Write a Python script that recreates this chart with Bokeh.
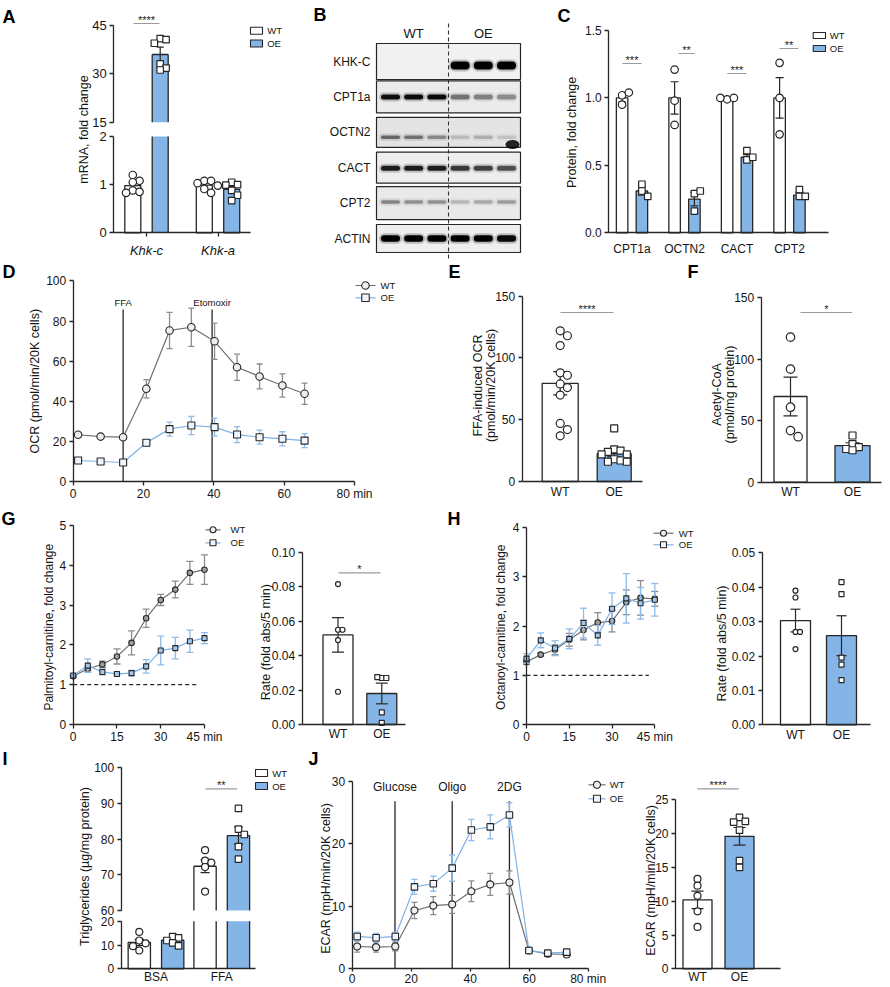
from math import pi
from bokeh.plotting import figure
from bokeh.models import Range1d, FixedTicker, LinearAxis, PrintfTickFormatter
from bokeh.layouts import row, column
from bokeh.embed import file_html
from bokeh.resources import INLINE
from bokeh.core.properties import value

FONT = "Liberation Sans"
INK = "#151515"
AXC = "#262626"
BLUE = "#85b5e6"
WT_LINE = "#707070"
OE_LINE = "#7db1e6"
WT_ERR = "#8c8c8c"
OE_ERR = "#8dbbea"
SIGC = "#9b9b9b"

# ======================= DATA =======================
# A  mRNA fold change
A_genes = ["Khk-c", "Khk-a"]
A_wt_mean = [0.98, 0.99]
A_wt_err = [0.06, 0.04]
A_oe_mean = [36.0, 0.90]
A_oe_err = [2.3, 0.06]
A_wt_pts = [[1.20, 1.08, 1.05, 0.88, 0.85, 0.83], [1.08, 1.08, 1.03, 0.98, 0.91, 0.83]]
A_oe_pts = [[40.9, 40.6, 39.5, 33.1, 31.8, 31.2], [1.05, 1.00, 0.99, 0.88, 0.78, 0.67]]

# B  western blot (band intensity, 0..1)
B_proteins = ["KHK-C", "CPT1a", "OCTN2", "CACT", "CPT2", "ACTIN"]
B_groups = ["WT", "OE"]
B_bands = [
    [0.0, 0.0, 0.0, 1.0, 1.0, 1.0],
    [0.92, 0.95, 0.95, 0.45, 0.40, 0.35],
    [0.50, 0.45, 0.35, 0.15, 0.20, 0.12],
    [0.85, 0.85, 0.85, 0.72, 0.68, 0.62],
    [0.38, 0.33, 0.33, 0.18, 0.24, 0.28],
    [1.0, 1.0, 1.0, 1.0, 1.0, 0.95],
]

# C  protein fold change
C_prot = ["CPT1a", "OCTN2", "CACT", "CPT2"]
C_wt_mean = [1.0, 1.0, 1.0, 1.0]
C_wt_err = [0.03, 0.12, 0.01, 0.15]
C_oe_mean = [0.31, 0.25, 0.56, 0.28]
C_oe_err = [0.03, 0.05, 0.02, 0.02]
C_wt_pts = [[1.02, 0.95, 1.04], [1.21, 0.98, 0.80], [0.99, 1.00, 1.00], [1.26, 1.00, 0.73]]
C_oe_pts = [[0.36, 0.31, 0.27], [0.29, 0.31, 0.16], [0.54, 0.61, 0.56], [0.32, 0.27, 0.27]]
C_sig = ["***", "**", "***", "**"]

# D  OCR time course
D_time = [1.4, 7.8, 14.2, 20.8, 27.4, 33.6, 40.2, 46.6, 53.0, 59.5, 65.8]
D_wt = [23.4, 22.5, 22.2, 46.3, 75.3, 76.9, 69.9, 57.0, 52.4, 47.9, 43.8]
D_wt_err = [1.0, 0.8, 1.0, 4.5, 9.0, 9.5, 9.0, 6.5, 6.2, 5.8, 5.3]
D_oe = [10.6, 10.1, 9.6, 19.4, 26.2, 28.0, 27.2, 23.5, 22.2, 21.4, 20.5]
D_oe_err = [1.0, 1.0, 1.0, 1.5, 3.5, 4.5, 4.5, 4.0, 3.5, 3.5, 3.5]
D_inject_t = [14.2, 39.5]
D_inject = ["FFA", "Etomoxir"]

# E  FFA-induced OCR
E_groups = ["WT", "OE"]
E_mean = [79.5, 22.5]
E_err = [9.4, 2.6]
E_wt_pts = [122, 118, 110, 88, 86, 79, 76, 70, 47, 42, 37]
E_oe_pts = [43, 26, 25, 24, 22, 22, 18, 17, 16, 16]

# F  Acetyl-CoA
F_mean = [69.7, 29.8]
F_err = [15.7, 2.3]
F_wt_pts = [118, 92, 61, 42, 37]
F_oe_pts = [38, 31, 28.5, 27, 26]

# G  palmitoyl-carnitine
G_time = [0, 5, 10, 15, 20, 25, 30, 35, 40, 45]
G_wt = [1.21, 1.40, 1.51, 1.71, 2.05, 2.67, 3.13, 3.39, 3.81, 3.89]
G_wt_err = [0.03, 0.05, 0.08, 0.19, 0.30, 0.23, 0.14, 0.21, 0.29, 0.37]
G_oe = [1.23, 1.48, 1.32, 1.27, 1.29, 1.46, 1.86, 1.92, 2.09, 2.17]
G_oe_err = [0.03, 0.17, 0.07, 0.02, 0.07, 0.17, 0.36, 0.27, 0.28, 0.14]
G_rate_mean = [0.052, 0.018]
G_rate_err = [0.010, 0.006]
G_rate_wt = [0.0815, 0.055, 0.055, 0.049, 0.019]
G_rate_oe = [0.027, 0.027, 0.0275, 0.007, 0.001]

# H  octanoyl-carnitine
H_time = [0, 5, 10, 15, 20, 25, 30, 35, 40, 45]
H_wt = [1.27, 1.42, 1.52, 1.72, 1.92, 2.07, 2.10, 2.48, 2.57, 2.55]
H_wt_err = [0.05, 0.03, 0.10, 0.13, 0.20, 0.20, 0.22, 0.25, 0.35, 0.15]
H_oe = [1.34, 1.71, 1.55, 1.74, 2.06, 1.81, 2.35, 2.56, 2.46, 2.53]
H_oe_err = [0.10, 0.15, 0.15, 0.20, 0.30, 0.20, 0.32, 0.50, 0.32, 0.33]
H_rate_mean = [0.0303, 0.0259]
H_rate_err = [0.0033, 0.0058]
H_rate_wt = [0.039, 0.037, 0.027, 0.027, 0.022]
H_rate_oe = [0.0415, 0.038, 0.0195, 0.0175, 0.013]
FOLD_BASELINE = 1.0

# I  triglycerides
I_cond = ["BSA", "FFA"]
I_wt_mean = [11.1, 72.4]
I_wt_err = [1.3, 1.8]
I_oe_mean = [12.0, 81.0]
I_oe_err = [0.7, 2.4]
I_wt_pts = [[15.5, 11.9, 10.7, 9.5, 7.7], [76.9, 74.0, 73.4, 72.2, 65.3]]
I_oe_pts = [[13.5, 13.0, 11.9, 10.9, 9.6], [88.6, 82.8, 81.3, 77.9, 74.4]]

# J  ECAR
J_time = [1.7, 8.1, 14.6, 21.1, 27.5, 33.9, 40.4, 46.8, 53.3, 59.9, 66.3, 72.7]
J_wt = [3.57, 3.46, 3.57, 9.33, 10.1, 10.3, 12.4, 13.5, 13.8, 2.93, 2.40, 2.29]
J_wt_err = [0.9, 0.8, 0.7, 1.3, 1.45, 1.45, 1.65, 1.75, 1.85, 0.3, 0.2, 0.2]
J_oe = [5.17, 4.96, 5.17, 13.1, 13.6, 16.1, 22.2, 22.7, 24.6, 2.93, 2.50, 2.66]
J_oe_err = [0.7, 0.7, 0.7, 1.2, 1.2, 2.1, 1.7, 1.9, 1.95, 0.3, 0.2, 0.2]
J_inject_t = [14.5, 33.9, 53.3]
J_inject = ["Glucose", "Oligo", "2DG"]
J_bar_mean = [10.2, 19.6]
J_bar_err = [1.3, 1.3]
J_bar_wt = [13.3, 12.3, 10.8, 8.5, 6.2]
J_bar_oe = [22.4, 21.8, 21.7, 20.5, 16.0, 15.0]


# ======================= HELPERS =======================
class Panel:
    """A figure whose frame covers a page rectangle; data mapped to measured pixels."""

    def __init__(self, X0, Y0, X1, Y1, xm, ym, axes=True):
        self.X0, self.Y0, self.X1, self.Y1 = X0, Y0, X1, Y1
        W, H = X1 - X0, Y1 - Y0
        d0, p0, d1, p1 = xm
        self.sx = (p1 - p0) / (d1 - d0)
        self.xs = d0 - (p0 - X0) / self.sx
        self.rng = {}
        s, st = self._ym(ym)
        self.rng["default"] = (s, st)
        kw = {} if axes else dict(x_axis_location=None, y_axis_location=None)
        self.fig = figure(width=W, height=H,
                          x_range=Range1d(self.xs, self.xs + W / self.sx),
                          y_range=Range1d(st, st + H / s),
                          min_border=0, toolbar_location=None, output_backend="svg",
                          outline_line_color=None, **kw)
        self.fig.grid.visible = False
        self.fig.background_fill_color = "white"
        self.fig.border_fill_color = "white"

    def _ym(self, ym):
        d0, p0, d1, p1 = ym
        s = (p0 - p1) / (d1 - d0)
        return s, d0 - (self.Y1 - p0) / s

    def add_up(self, ym):
        s, st = self._ym(ym)
        self.rng["up"] = (s, st)
        H = self.Y1 - self.Y0
        self.fig.extra_y_ranges = {"up": Range1d(st, st + H / s)}

    def X(self, px):
        return self.xs + (px - self.X0) / self.sx

    def Y(self, py, name="default"):
        s, st = self.rng[name]
        return st + (self.Y1 - py) / s


def T(P, px, py, s, size=12, align="center", base="middle", style="normal", angle=0.0, color=INK):
    P.fig.text(x=[P.X(px)], y=[P.Y(py)], text=[s], text_font=value(FONT),
               text_font_size=f"{size}px", text_align=align, text_baseline=base,
               text_font_style=style, angle=angle, text_color=color)


def style_axis(ax, size=12, fstyle="normal", tick_out=4, standoff=3):
    ax.axis_line_color = AXC
    ax.axis_line_width = 1.3
    ax.major_tick_line_color = AXC
    ax.major_tick_line_width = 1.3
    ax.major_tick_out = tick_out
    ax.major_tick_in = 0
    ax.minor_tick_line_color = None
    ax.major_label_text_font = FONT
    ax.major_label_text_font_size = f"{size}px"
    ax.major_label_text_color = INK
    ax.major_label_text_font_style = fstyle
    ax.major_label_standoff = standoff


def setup_axes(P, xb, yb, xticks, yticks, xover=None, yfmt=None, xtick_out=4,
               xstyle="normal", size=12, xstandoff=2, ystandoff=3):
    p = P.fig
    xa, ya = p.xaxis[0], p.yaxis[0]
    xa.fixed_location = yb[0]
    ya.fixed_location = xb[0]
    xa.bounds = (xb[0], xb[1])
    ya.bounds = (yb[0], yb[1])
    xa.ticker = FixedTicker(ticks=list(xticks))
    ya.ticker = FixedTicker(ticks=list(yticks))
    if xover:
        xa.major_label_overrides = xover
    if yfmt:
        ya.formatter = PrintfTickFormatter(format=yfmt)
    style_axis(xa, size, xstyle, xtick_out, xstandoff)
    style_axis(ya, size, "normal", 4, ystandoff)
    return xa, ya


def up_axis(P, xloc, bounds, ticks, size=12):
    ax = LinearAxis(y_range_name="up", fixed_location=xloc, bounds=bounds,
                    ticker=FixedTicker(ticks=ticks))
    style_axis(ax, size)
    P.fig.add_layout(ax, "left")


def swarm(P, xc, vals, d, name="default"):
    s = P.rng[name][0]
    placed, out = [], []
    for v in vals:
        yp = v * s
        o = 0.0
        for k in (0, 1, -1, 2, -2, 3, -3, 4, -4):
            o = k * d * 0.9
            if all((o - a) ** 2 + (yp - b) ** 2 >= (d * 0.85) ** 2 for a, b in placed):
                break
        placed.append((o, yp))
        out.append(xc + o / P.sx)
    return out


def draw_bar(P, x, m, e, pts, fill, marker, msize, w_px, cap_px, split=None):
    p = P.fig
    L = dict(line_color=AXC, line_width=1.3)
    width = w_px / P.sx
    capw = cap_px / P.sx
    hw = width / 2
    if split is not None and m > split[1]:
        lo, up = split
        p.vbar(x=[x], width=width, top=[lo], bottom=0, fill_color=fill, line_color=None)
        p.vbar(x=[x], width=width, top=[m], bottom=up, fill_color=fill, line_color=None,
               y_range_name="up")
        p.segment(x0=[x - hw, x + hw], y0=[0, 0], x1=[x - hw, x + hw], y1=[lo, lo], **L)
        p.segment(x0=[x - hw, x + hw, x - hw], y0=[up, up, m], x1=[x - hw, x + hw, x + hw],
                  y1=[m, m, m], y_range_name="up", **L)
        rn = "up"
    else:
        p.vbar(x=[x], width=width, top=[m], bottom=0, fill_color=fill, **L)
        rn = "default"
    p.segment(x0=[x, x - capw / 2, x - capw / 2], y0=[m - e, m + e, m - e],
              x1=[x, x + capw / 2, x + capw / 2], y1=[m + e, m + e, m - e],
              y_range_name=rn, line_color=AXC, line_width=1.2)
    for name in ("default", "up"):
        vs = [v for v in pts if (name == "up") == (split is not None and v > split[1])]
        if not vs:
            continue
        xs = swarm(P, x, vs, msize, name)
        p.scatter(xs, vs, marker=marker, size=msize, fill_color="white", line_color=AXC,
                  line_width=1.2, y_range_name=name)


def grouped(P, mw, ew, pw, mo, eo, po, off_px, w_px, cap_px, msc, mss, split=None):
    for i in range(len(mw)):
        draw_bar(P, i - off_px / P.sx, mw[i], ew[i], pw[i], "white", "circle", msc, w_px, cap_px, split)
        draw_bar(P, i + off_px / P.sx, mo[i], eo[i], po[i], BLUE, "square", mss, w_px, cap_px, split)


def series(P, t, y, e, lc, ec, mk, ms, mf, cap_px, lw=1.2):
    p = P.fig
    lo = [a - b for a, b in zip(y, e)]
    hi = [a + b for a, b in zip(y, e)]
    cw = cap_px / P.sx
    p.segment(x0=t, y0=lo, x1=t, y1=hi, line_color=ec, line_width=1.3)
    p.segment(x0=[a - cw / 2 for a in t] * 2, y0=lo + hi, x1=[a + cw / 2 for a in t] * 2,
              y1=lo + hi, line_color=ec, line_width=1.3)
    p.line(t, y, line_color=lc, line_width=lw)
    p.scatter(t, y, marker=mk, size=ms, fill_color=mf, line_color=AXC, line_width=1.1)


def injections(P, times, names, top, label_py, size):
    n = len(times)
    P.fig.segment(x0=times, y0=[0] * n, x1=times, y1=[top] * n, line_color=AXC, line_width=1.3)
    P.fig.text(x=times, y=[P.Y(label_py)] * n, text=names, text_font=value(FONT),
               text_font_size=f"{size}px", text_align="center", text_baseline="middle",
               text_color=INK)


def sig(P, x0, x1, y, stars, size=12):
    P.fig.segment(x0=[P.X(x0)], y0=[P.Y(y)], x1=[P.X(x1)], y1=[P.Y(y)], line_color=SIGC,
                  line_width=1.2)
    T(P, (x0 + x1) / 2, y - 3.5, stars, size, base="middle", color="#222222")


def box_legend(P, x0, x1, ys, h, tx, size=9.5):
    for yy, fc, lab in zip(ys, ("white", BLUE), ("WT", "OE")):
        P.fig.quad(left=[P.X(x0)], right=[P.X(x1)], top=[P.Y(yy - h / 2)],
                   bottom=[P.Y(yy + h / 2)], fill_color=fc, line_color=AXC, line_width=1.1)
        T(P, tx, yy, lab, size, align="left")


def line_legend(P, x0, x1, ys, tx, ms, fills, size=9.5):
    for yy, lc, mk, fc, lab in zip(ys, (WT_LINE, OE_LINE), ("circle", "square"), fills, ("WT", "OE")):
        P.fig.line([P.X(x0), P.X(x1)], [P.Y(yy)] * 2, line_color=lc, line_width=1.2)
        P.fig.scatter([P.X((x0 + x1) / 2)], [P.Y(yy)], marker=mk, size=ms, fill_color=fc,
                      line_color=AXC, line_width=1.1)
        T(P, tx, yy, lab, size, align="left")


def letter(P, px, py, s):
    T(P, px, py, s, 18, align="left", style="bold", color="#000000")


def ytitle(P, px, py, s, size=12.5):
    T(P, px, py, s, size, angle=pi / 2)


# ======================= PANEL A =======================
A = Panel(0, 0, 300, 259, (0, 146, 1, 217.5), (0, 232.3, 2, 136))
A.add_up((15, 121.7, 45, 25))
axl = A.X(113.3)
setup_axes(A, (axl, A.X(250)), (0, 2), [0, 1], [0, 1, 2],
           xover={i: g for i, g in enumerate(A_genes)}, xstyle="italic", size=13, xstandoff=6)
up_axis(A, axl, (15, 45), [15, 30, 45], 13)
grouped(A, A_wt_mean, A_wt_err, A_wt_pts, A_oe_mean, A_oe_err, A_oe_pts,
        13.7, 16, 7, 7.5, 6.5, split=(2, 15))
sig(A, 133, 159, 23, "****", 11)
box_legend(A, 250, 262, (30.3, 43), 7, 266.7)
ytitle(A, 83.5, 129, "mRNA, fold change")
letter(A, 2, 16, "A")

# ======================= PANEL B =======================
B = Panel(300, 0, 538, 259, (0, 390, 5, 506), (-5, 238, 0, 61), axes=False)
thick = [8, 5, 3.5, 5, 3.5, 6.5]
band_off = [4, 0, 5, 0.5, -1, 0]
box_h = [36, 32, 30, 31, 33, 28]
box_bg = ["#f1f1f1", "#ebebeb", "#e4e4e4", "#eeeeee", "#e9e9e9", "#eeeeee"]
bs = B.rng["default"][0]
lanes = list(range(6))
bl, br = B.X(376), B.X(520)
for i, prot in enumerate(B_proteins):
    yc = -i
    B.fig.quad(left=[bl], right=[br], top=[yc + box_h[i] / 2 / bs], bottom=[yc - box_h[i] / 2 / bs],
               fill_color=box_bg[i], line_color=AXC, line_width=1.2)
    yb = yc - band_off[i] / bs
    half = (19 - thick[i]) / 2 / B.sx
    inten = B_bands[i]
    B.fig.segment(x0=[l - half for l in lanes], y0=[yb] * 6, x1=[l + half for l in lanes], y1=[yb] * 6,
                  line_color="black", line_width=thick[i] + 4, line_alpha=[a * 0.22 for a in inten],
                  line_cap="round")
    B.fig.segment(x0=[l - half for l in lanes], y0=[yb] * 6, x1=[l + half for l in lanes], y1=[yb] * 6,
                  line_color="black", line_width=thick[i], line_alpha=inten, line_cap="round")
    B.fig.text(x=[B.X(370)], y=[yc], text=[prot], text_font=value(FONT), text_font_size="12px",
               text_align="right", text_baseline="middle", text_color=INK)
# blemish on the OCTN2 membrane
B.fig.ellipse(x=[B.X(512)], y=[B.Y(144)], width=14 / B.sx, height=9 / bs, fill_color="black",
              fill_alpha=0.85, line_color=None)
B.fig.segment(x0=[2.5], y0=[B.Y(23)], x1=[2.5], y1=[B.Y(258)], line_color="#333333",
              line_width=1.1, line_dash="4 3")
B.fig.text(x=[1, 4], y=[B.Y(33)] * 2, text=B_groups, text_font=value(FONT), text_font_size="13px",
           text_align="center", text_baseline="middle", text_color=INK)
letter(B, 313, 14, "B")

# ======================= PANEL C =======================
C = Panel(538, 0, 890, 259, (0, 631.5, 1, 684), (0, 232.3, 1.5, 30))
setup_axes(C, (C.X(608.3), C.X(828)), (0, 1.5), [0, 1, 2, 3], [0, 0.5, 1.0, 1.5],
           xover={i: n for i, n in enumerate(C_prot)}, yfmt="%.1f", xtick_out=0, xstandoff=9)
grouped(C, C_wt_mean, C_wt_err, C_wt_pts, C_oe_mean, C_oe_err, C_oe_pts,
        9.9, 11.5, 8, 7.5, 6.5)
for (x0, x1, yy), st in zip([(622, 641, 63), (678, 694, 53), (726.7, 746, 73), (779, 798, 48)], C_sig):
    sig(C, x0, x1, yy, st, 11)
box_legend(C, 812.7, 825, (35, 48), 6, 829.3)
ytitle(C, 571.7, 132, "Protein, fold change")
letter(C, 557, 15, "C")

# ======================= PANEL D =======================
D = Panel(0, 259, 440, 506, (0, 72.7, 80, 354), (0, 481.3, 100, 280.3))
setup_axes(D, (0, 80), (0, 100), [0, 20, 40, 60, 80], [0, 20, 40, 60, 80, 100],
           xover={80: "80 min"}, xstandoff=1)
injections(D, D_inject_t, D_inject, 85.7, 302, 9.5)
series(D, D_time, D_wt, D_wt_err, WT_LINE, WT_ERR, "circle", 7.5, "#eeeeee", 6)
series(D, D_time, D_oe, D_oe_err, OE_LINE, OE_ERR, "square", 7, "#eef5fc", 6)
line_legend(D, 355, 375, (285, 297.3), 380, 7.5, ("#eeeeee", "#eef5fc"))
ytitle(D, 34, 380.7, "OCR (pmol/min/20K cells)")
letter(D, 2, 271, "D")

# ======================= PANEL E =======================
E = Panel(440, 259, 684, 506, (0, 559.7, 1, 613.7), (0, 481, 150, 295.7))
setup_axes(E, (E.X(521.7), E.X(641.7)), (0, 150), [0, 1], [0, 50, 100, 150],
           xover={i: g for i, g in enumerate(E_groups)}, xtick_out=0, xstandoff=3)
draw_bar(E, 0, E_mean[0], E_err[0], E_wt_pts, "white", "circle", 8, 36, 14)
draw_bar(E, 1, E_mean[1], E_err[1], E_oe_pts, BLUE, "square", 7, 34, 14)
sig(E, 560, 613, 312, "****", 11)
ytitle(E, 477.7, 385, "FFA-induced OCR")
ytitle(E, 490.5, 385, "(pmol/min/20K cells)")
letter(E, 448, 271, "E")

# ======================= PANEL F =======================
F = Panel(684, 259, 890, 506, (0, 790, 1, 852), (0, 481.7, 150, 297.3))
setup_axes(F, (F.X(760.7), F.X(881)), (0, 150), [0, 1], [0, 50, 100, 150],
           xover={i: g for i, g in enumerate(E_groups)}, xtick_out=0, xstandoff=3)
draw_bar(F, 0, F_mean[0], F_err[0], F_wt_pts, "white", "circle", 8.5, 33, 14)
draw_bar(F, 1, F_mean[1], F_err[1], F_oe_pts, BLUE, "square", 7, 35, 14)
sig(F, 800, 851.7, 312, "*", 11)
ytitle(F, 716.5, 394, "Acetyl-CoA")
ytitle(F, 729, 394, "(pmol/mg protein)")
letter(F, 687, 271, "F")

# ======================= PANEL G =======================
G = Panel(0, 506, 250, 745, (0, 72.7, 45, 204), (0, 724, 5, 525))
setup_axes(G, (0, 45), (0, 5), [0, 15, 30, 45], [0, 1, 2, 3, 4, 5], xover={45: "45 min"}, xstandoff=1)
G.fig.segment(x0=[G_time[0]], y0=[FOLD_BASELINE], x1=[G.X(196.7)], y1=[FOLD_BASELINE],
              line_color=AXC, line_width=1.2, line_dash="4 3")
series(G, G_time, G_wt, G_wt_err, WT_LINE, WT_ERR, "circle", 5.5, "#a0a0a0", 7)
series(G, G_time, G_oe, G_oe_err, OE_LINE, OE_ERR, "square", 5, "#a3c8ef", 7)
line_legend(G, 205, 220, (529.3, 542.3), 230, 6, ("#eeeeee", "#eef5fc"))
ytitle(G, 48.7, 626.7, "Palmitoyl-carnitine, fold change", 12)
letter(G, 1, 518, "G")

Gr = Panel(250, 506, 440, 745, (0, 337.5, 1, 381.3), (0, 724, 0.1, 551.7))
setup_axes(Gr, (Gr.X(301.7), Gr.X(405)), (0, 0.1), [0, 1], [0, 0.02, 0.04, 0.06, 0.08, 0.10],
           xover={i: g for i, g in enumerate(E_groups)}, yfmt="%.2f", xtick_out=0, xstandoff=2)
draw_bar(Gr, 0, G_rate_mean[0], G_rate_err[0], G_rate_wt, "white", "circle", 5, 30, 12)
draw_bar(Gr, 1, G_rate_mean[1], G_rate_err[1], G_rate_oe, BLUE, "square", 5, 30, 12)
sig(Gr, 338, 380, 572.3, "*", 11)
ytitle(Gr, 265, 641.7, "Rate (fold abs/5 min)")

# ======================= PANEL H =======================
H = Panel(440, 506, 698, 745, (0, 526, 45, 654.3), (0, 724.3, 4, 526.7))
setup_axes(H, (0, 45), (0, 4), [0, 15, 30, 45], [0, 1, 2, 3, 4], xover={45: "45 min"}, xstandoff=1)
H.fig.segment(x0=[H_time[0]], y0=[FOLD_BASELINE], x1=[H.X(648.3)], y1=[FOLD_BASELINE],
              line_color=AXC, line_width=1.2, line_dash="4 3")
series(H, H_time, H_wt, H_wt_err, WT_LINE, WT_ERR, "circle", 5.5, "#a0a0a0", 7)
series(H, H_time, H_oe, H_oe_err, OE_LINE, OE_ERR, "square", 5, "#a3c8ef", 7)
line_legend(H, 653, 673, (532.7, 544.3), 678.3, 6, ("#eeeeee", "#eef5fc"))
ytitle(H, 500, 626.7, "Octanoyl-carnitine, fold change", 12)
letter(H, 447, 518, "H")

Hr = Panel(698, 506, 890, 745, (0, 795, 1, 841), (0, 724.3, 0.05, 552.3))
setup_axes(Hr, (Hr.X(761.7), Hr.X(870)), (0, 0.05), [0, 1], [0, 0.01, 0.02, 0.03, 0.04, 0.05],
           xover={i: g for i, g in enumerate(E_groups)}, yfmt="%.2f", xtick_out=0, xstandoff=3)
draw_bar(Hr, 0, H_rate_mean[0], H_rate_err[0], H_rate_wt, "white", "circle", 5, 30, 10)
draw_bar(Hr, 1, H_rate_mean[1], H_rate_err[1], H_rate_oe, BLUE, "square", 5, 30, 10)
ytitle(Hr, 721.3, 643, "Rate (fold abs/5 min)")

# ======================= PANEL I =======================
I = Panel(0, 745, 295, 986, (0, 155.5, 1, 221.25), (0, 968.3, 20, 920.7))
I.add_up((60, 910, 100, 767.3))
ixl = I.X(120.7)
setup_axes(I, (ixl, I.X(255)), (0, 20), [0, 1], [0, 10, 20],
           xover={i: c for i, c in enumerate(I_cond)}, xtick_out=0, xstandoff=1)
up_axis(I, ixl, (60, 100), [60, 70, 80, 90, 100])
grouped(I, I_wt_mean, I_wt_err, I_wt_pts, I_oe_mean, I_oe_err, I_oe_pts,
        16.7, 22.3, 9, 7, 6.5, split=(20, 60))
sig(I, 205, 236.7, 788.3, "**", 11)
box_legend(I, 255, 267, (772.5, 785.5), 7, 271.7)
ytitle(I, 84, 866, "Triglycerides (\u00b5g/mg protein)")
letter(I, 2, 758, "I")

# ======================= PANEL J =======================
J = Panel(295, 745, 628, 986, (0, 351.7, 80, 587.7), (0, 968.3, 30, 780.7))
setup_axes(J, (0, 80), (0, 30), [0, 20, 40, 60, 80], [0, 10, 20, 30], xover={80: "80 min"},
           xtick_out=3, xstandoff=0)
injections(J, J_inject_t, J_inject, 26.8, 786.7, 12)
series(J, J_time, J_wt, J_wt_err, WT_LINE, WT_ERR, "circle", 7, "#eeeeee", 6)
series(J, J_time, J_oe, J_oe_err, OE_LINE, OE_ERR, "square", 6.5, "#eef5fc", 6)
line_legend(J, 588, 605, (784.3, 798.3), 609.3, 7, ("#eeeeee", "#eef5fc"))
ytitle(J, 325.8, 878, "ECAR (mpH/min/20K cells)")
letter(J, 308, 758, "J")

Jb = Panel(628, 745, 890, 986, (0, 697, 1, 739), (0, 968.3, 25, 799.3))
setup_axes(Jb, (Jb.X(675), Jb.X(780)), (0, 25), [0, 1], [0, 5, 10, 15, 20, 25],
           xover={i: g for i, g in enumerate(E_groups)}, xtick_out=0, xstandoff=1)
draw_bar(Jb, 0, J_bar_mean[0], J_bar_err[0], J_bar_wt, "white", "circle", 7, 29, 12)
draw_bar(Jb, 1, J_bar_mean[1], J_bar_err[1], J_bar_oe, BLUE, "square", 6.5, 29, 12)
sig(Jb, 696.7, 738.3, 788.3, "****", 11)
ytitle(Jb, 650.8, 880, "ECAR (mpH/min/20K cells)")

layout = column(
    row(A.fig, B.fig, C.fig),
    row(D.fig, E.fig, F.fig),
    row(G.fig, Gr.fig, H.fig, Hr.fig),
    row(I.fig, J.fig, Jb.fig),
)

open("out.html", "w").write(file_html(layout, INLINE, title="KHK-C overexpression"))
